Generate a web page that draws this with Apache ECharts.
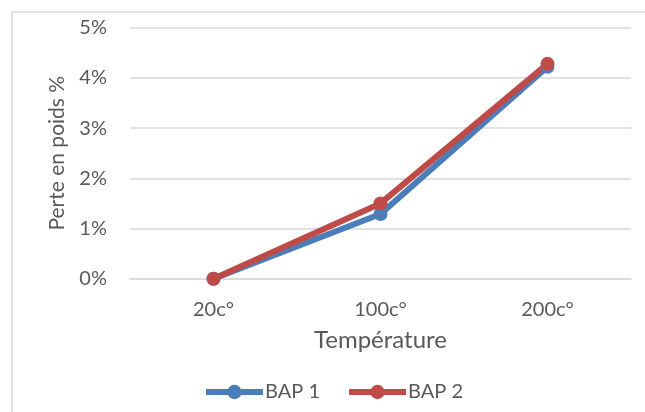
<!DOCTYPE html>
<html>
<head>
<meta charset="utf-8">
<script src="https://cdn.jsdelivr.net/npm/echarts@6/dist/echarts.min.js"></script>
<style>
  html, body { margin: 0; padding: 0; background: #fff; }
  #chart { width: 645px; height: 412px; }
</style>
</head>
<body>
<div id="chart"></div>
<script>
// Weight loss (%) by temperature for two samples
const categories = ['20c°', '100c°', '200c°'];
const bap1 = [0, 1.29, 4.22];
const bap2 = [0, 1.50, 4.28];
const yTicks = [0, 1, 2, 3, 4, 5];

const textColor = '#595959';
const gridColor = '#d9d9d9';
const font = 'Lato, "Open Sans", sans-serif';

const chart = echarts.init(document.getElementById('chart'));

function lineSeries(name, data, color) {
  return {
    name: name,
    type: 'line',
    data: data,
    symbol: 'circle',
    symbolSize: 14,
    lineStyle: { width: 6, color: color },
    itemStyle: { color: color },
    emphasis: { disabled: true },
    animation: false
  };
}

chart.setOption({
  animation: false,
  backgroundColor: '#ffffff',
  textStyle: { fontFamily: font },
  graphic: [{
    type: 'rect',
    shape: { x: 12, y: 12, width: 700, height: 500 },
    style: { fill: 'none', stroke: gridColor, lineWidth: 1.5 },
    silent: true,
    z: -10
  }],
  grid: {
    left: 130,
    right: 14,
    top: 27.7,
    bottom: 133.3,
    containLabel: false,
    outerBoundsMode: 'none'
  },
  legend: {
    data: ['BAP 1', 'BAP 2'],
    top: 377,
    left: 198,
    padding: 5,
    itemWidth: 57,
    itemHeight: 18,
    itemGap: 26,
    textStyle: { color: textColor, fontSize: 20, fontFamily: font, padding: [0, 0, 0, -3] },
    lineStyle: { width: 6 }
  },
  xAxis: {
    type: 'category',
    data: categories,
    boundaryGap: true,
    name: 'Température',
    nameLocation: 'middle',
    nameGap: 50,
    nameTextStyle: { color: textColor, fontSize: 24, fontFamily: font },
    axisLine: { show: true, lineStyle: { color: gridColor, width: 1.5 } },
    axisTick: { show: false },
    axisLabel: { color: textColor, fontSize: 20, margin: 21, fontFamily: font }
  },
  yAxis: {
    type: 'value',
    min: yTicks[0],
    max: yTicks[yTicks.length - 1],
    interval: 1,
    name: 'Perte en poids %',
    nameLocation: 'middle',
    nameGap: 62,
    nameTextStyle: { color: textColor, fontSize: 21, fontFamily: font },
    axisLine: { show: false },
    axisTick: { show: false },
    splitLine: { lineStyle: { color: gridColor, width: 1.5 } },
    axisLabel: { color: textColor, fontSize: 20, margin: 23, fontFamily: font, formatter: '{value}%' }
  },
  series: [
    lineSeries('BAP 1', bap1, '#4a7ebb'),
    lineSeries('BAP 2', bap2, '#be4b48')
  ]
});
</script>
</body>
</html>
